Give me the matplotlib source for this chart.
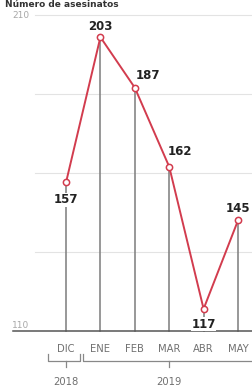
import matplotlib
matplotlib.use("Agg")
import matplotlib.pyplot as plt
import matplotlib.transforms as mtransforms

# monthly values (Dec 2018 - May 2019)
months = ["DIC", "ENE", "FEB", "MAR", "ABR", "MAY"]
values = [157, 203, 187, 162, 117, 145]
years = ["2018", "2019"]
year_spans = [(0, 0), (1, 5)]          # month index ranges per year
y_ticks = [110, 210]
grid_vals = [135, 160, 185, 210]
# label placement: (dx in month units, dy in value units)
label_offsets = [(0.0, -5.5), (0.0, 3.5), (0.38, 4.0), (0.32, 4.8), (0.0, -4.8), (0.0, 3.8)]

RED = "#d23c4e"

fig = plt.figure(figsize=(2.53, 3.89), dpi=100)
ax = fig.add_axes([0, 0, 1, 1])
ax.set_xlim(-1.919, 5.436)
ax.set_ylim(91.65, 214.75)
ax.axis("off")

# light horizontal grid
for g in grid_vals:
    ax.plot([-0.9, 5.5], [g, g], color="#e3e3e3", lw=0.8, zorder=0)
# base line
ax.plot([-1.55, 5.5], [110, 110], color="#555555", lw=1.1, zorder=2)
for t in y_ticks:
    ax.text(-1.57, t + (0 if t == 210 else 1.7), str(t), fontsize=6.5, color="#a8a8a8",
            ha="left", va="center")

# drop lines
x = list(range(len(months)))
for xi, v in zip(x, values):
    ax.plot([xi, xi], [110, v], color="#7c7c7c", lw=1.1, zorder=1)

ax.plot(x, values, color=RED, lw=1.4, zorder=3)
ax.plot(x, values, "o", ms=4.5, mfc="white", mec=RED, mew=1.1, zorder=4)

for xi, v, (dx, dy) in zip(x, values, label_offsets):
    ax.text(xi + dx, v + dy, str(v), fontsize=8.5, fontweight="bold", color="#222222",
            ha="center", va="center", zorder=5,
            bbox=dict(facecolor="white", edgecolor="none", pad=0.3))

# month labels and year brackets (x in data, y in axes fraction)
trans = mtransforms.blended_transform_factory(ax.transData, ax.transAxes)
for xi, m in zip(x, months):
    ax.text(xi, 0.103, m, fontsize=7.2, color="#707070", ha="center", va="center",
            transform=trans)
for yr, (a, b) in zip(years, year_spans):
    x0 = a - 0.52
    x1 = 0.42 if a == 0 else 5.6
    ax.plot([x0, x0, x1, x1], [0.09, 0.072, 0.072, 0.09], color="#888888", lw=0.9,
            transform=trans, clip_on=False)
    xm = (a + b) / 2
    ax.plot([xm, xm], [0.072, 0.056], color="#888888", lw=0.9, transform=trans)
    ax.text(xm, 0.018, yr, fontsize=7.2, color="#707070", ha="center", va="center",
            transform=trans)

fig.text(0.02, 0.999, "Número de asesinatos", fontsize=6.5, fontweight="bold",
         color="#333333", ha="left", va="top")

fig.savefig("out.png", dpi=100)
